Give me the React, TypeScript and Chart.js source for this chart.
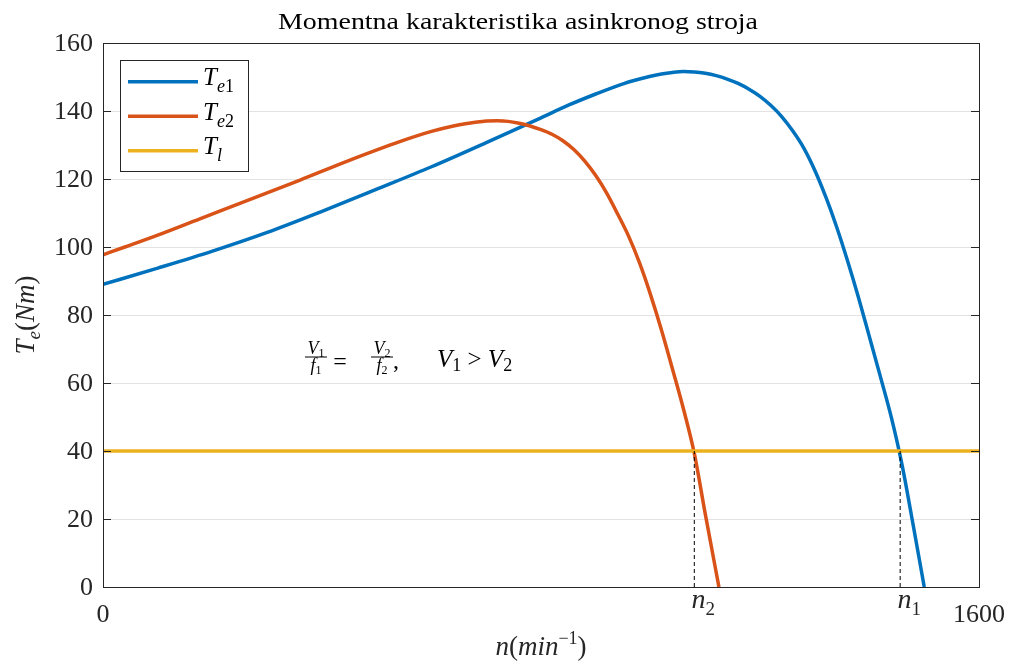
import React, { useEffect, useRef } from "react";
import { Chart, registerables } from "chart.js";

Chart.register(...registerables);

// ---- data ----
const te1N = [0, 100, 200, 300, 400, 500, 600, 700, 800, 850, 900, 950, 1000, 1020, 1040, 1060, 1080, 1100, 1120, 1140, 1160, 1180, 1200, 1220, 1240, 1260, 1280, 1300, 1320, 1340, 1360, 1380, 1400, 1420, 1440, 1460, 1480, 1500];
const te1T = [89, 93.8, 98.8, 104.3, 110.5, 117, 123.6, 130.7, 138, 141.7, 145, 148, 150.2, 150.9, 151.35, 151.6, 151.5, 151.1, 150.4, 149.4, 148.1, 146.4, 144.3, 141.6, 138.3, 134.1, 129.1, 122.6, 114.8, 105.9, 95.9, 85.1, 73.5, 61.8, 49.8, 35.5, 18, 0];
const te2N = [0, 40, 100, 177, 250, 360, 450, 542, 600, 640, 680, 720, 740, 760, 780, 800, 820, 840, 860, 880, 900, 920, 940, 960, 980, 1000, 1020, 1040, 1060, 1080, 1100, 1125];
const te2T = [97.7, 100, 103.5, 108.3, 112.8, 119.7, 125.5, 131, 134, 135.6, 136.7, 137.1, 136.95, 136.4, 135.6, 134.5, 133.15, 131.25, 128.65, 125.25, 121, 115.85, 109.7, 103.2, 95.3, 86, 75.6, 64.2, 52.5, 39.3, 21.5, 0];
const tlN = [0, 1600];
const tlT = [40, 40];
const n1 = 1456;
const n2 = 1080;
const yTicks = [0, 20, 40, 60, 80, 100, 120, 140, 160];
const xTicks = [0, n2, n1, 1600];
const xTickLabels = ["0", "n2", "n1", "1600"];
const title = "Momentna karakteristika asinkronog stroja";
const seriesLabels = [["T", "e", "1"], ["T", "e", "2"], ["T", "l", ""]];
const colors = ["#0072BD", "#D95319", "#EDB120"];

const SERIF = "'Liberation Serif', 'Times New Roman', serif";
const it = (s: number) => `italic ${s}px ${SERIF}`;
const rm = (s: number) => `${s}px ${SERIF}`;
const INK = "#262626";

type Part = [string, string, number];

function seq(ctx: CanvasRenderingContext2D, parts: Part[], x: number, y: number, align: "left" | "center" | "right") {
  const widths = parts.map((p) => {
    ctx.font = p[1];
    return ctx.measureText(p[0]).width;
  });
  const total = widths.reduce((a, b) => a + b, 0);
  let cx = align === "left" ? x : align === "center" ? x - total / 2 : x - total;
  ctx.textAlign = "left";
  ctx.textBaseline = "alphabetic";
  parts.forEach((p, i) => {
    ctx.font = p[1];
    ctx.fillText(p[0], cx, y + p[2]);
    cx += widths[i];
  });
  return total;
}

const pts = (xs: number[], ys: number[]) => xs.map((x, i) => ({ x, y: ys[i] }));

const decor = {
  id: "decor",
  beforeDatasetsDraw(chart: any) {
    const { ctx, chartArea: a, scales } = chart;
    ctx.save();
    ctx.strokeStyle = "#e3e3e3";
    ctx.lineWidth = 1;
    yTicks.forEach((v) => {
      const y = Math.round(scales.y.getPixelForValue(v)) + 0.5;
      ctx.beginPath();
      ctx.moveTo(a.left, y);
      ctx.lineTo(a.right, y);
      ctx.stroke();
    });
    ctx.restore();
  },
  afterDatasetsDraw(chart: any) {
    const { ctx, chartArea: a, scales } = chart;
    const xs = scales.x;
    const ys = scales.y;
    ctx.save();
    // box
    ctx.strokeStyle = INK;
    ctx.lineWidth = 1;
    ctx.strokeRect(Math.round(a.left) + 0.5, Math.round(a.top) + 0.5, Math.round(a.right - a.left), Math.round(a.bottom - a.top));
    // y ticks (inward, both sides)
    const tl = 8;
    yTicks.forEach((v) => {
      const y = Math.round(ys.getPixelForValue(v)) + 0.5;
      ctx.beginPath();
      ctx.moveTo(a.left, y);
      ctx.lineTo(a.left + tl, y);
      ctx.moveTo(a.right, y);
      ctx.lineTo(a.right - tl, y);
      ctx.stroke();
    });
    // y tick labels
    ctx.fillStyle = INK;
    ctx.font = rm(26);
    ctx.textAlign = "right";
    ctx.textBaseline = "middle";
    yTicks.forEach((v) => {
      ctx.fillText(String(v), a.left - 10, ys.getPixelForValue(v) + 1);
    });
    // x tick labels
    xTicks.forEach((v, i) => {
      const x = xs.getPixelForValue(v);
      const lab = xTickLabels[i];
      if (lab.startsWith("n")) {
        seq(ctx, [["n", it(28), 0], [lab.slice(1), rm(19), 7]], x + 9, a.bottom + 21, "center");
      } else {
        ctx.font = rm(26);
        ctx.textAlign = "center";
        ctx.textBaseline = "alphabetic";
        ctx.fillText(lab, x, a.bottom + 35);
      }
    });
    // title
    ctx.font = rm(23);
    const tw = ctx.measureText(title).width;
    const sx = 480 / tw;
    ctx.save();
    ctx.translate(518, 29);
    ctx.scale(sx, 1);
    ctx.textAlign = "center";
    ctx.textBaseline = "alphabetic";
    ctx.fillStyle = "#000";
    ctx.fillText(title, 0, 0);
    ctx.restore();
    // x axis label
    ctx.fillStyle = INK;
    seq(
      ctx,
      [
        ["n", it(27), 0],
        ["(", rm(27), 0],
        ["min", it(27), 0],
        ["\u22121", rm(18), -11],
        [")", rm(27), 0],
      ],
      (a.left + a.right) / 2,
      655,
      "center"
    );
    // y axis label
    ctx.save();
    ctx.translate(34, (a.top + a.bottom) / 2);
    ctx.rotate(-Math.PI / 2);
    seq(
      ctx,
      [
        ["T", it(27), 0],
        ["e", it(19), 6],
        ["(", rm(27), 0],
        ["Nm", it(27), 0],
        [")", rm(27), 0],
      ],
      0,
      0,
      "center"
    );
    ctx.restore();
    // annotation
    ctx.fillStyle = "#000";
    const frac = (cx: number, num: string, den: string) => {
      seq(ctx, [["V", it(18), 0], [num, rm(12), 3]], cx, 354, "center");
      ctx.fillRect(cx - 11, 356.5, 22, 1);
      seq(ctx, [["f", it(18), 0], [den, rm(12), 3]], cx, 371, "center");
    };
    frac(316, "1", "1");
    seq(ctx, [["=", rm(24), 0]], 340, 369, "center");
    frac(382, "2", "2");
    seq(ctx, [[",", rm(24), 0]], 393, 368, "left");
    seq(
      ctx,
      [
        ["V", it(25), 0],
        ["1", rm(18), 4],
        [" > ", rm(25), 0],
        ["V", it(25), 0],
        ["2", rm(18), 4],
      ],
      437,
      367,
      "left"
    );
    // legend
    const lx = 120.5, ly = 60.5, lw = 128, lh = 111;
    ctx.fillStyle = "#fff";
    ctx.fillRect(lx, ly, lw, lh);
    ctx.strokeStyle = INK;
    ctx.lineWidth = 1;
    ctx.strokeRect(lx, ly, lw, lh);
    const rows = [81.7, 116.3, 150.7];
    rows.forEach((ry, i) => {
      ctx.strokeStyle = colors[i];
      ctx.lineWidth = 3.5;
      ctx.beginPath();
      ctx.moveTo(128, ry);
      ctx.lineTo(198, ry);
      ctx.stroke();
      ctx.fillStyle = "#000";
      const [base, sub1, sub2] = seriesLabels[i];
      seq(ctx, [[base, it(25), 0], [sub1, it(18), 7], [sub2, rm(18), 7]], 203, ry + 3.5, "left");
    });
    ctx.restore();
  },
};

export default function App() {
  const ref = useRef<HTMLCanvasElement | null>(null);
  useEffect(() => {
    if (!ref.current) return;
    const chart = new Chart(ref.current, {
      type: "line",
      data: {
        datasets: [
          {
            label: "n1 marker",
            data: pts([n1, n1], [0, 40]),
            borderColor: "#000",
            borderWidth: 1,
            borderDash: [4, 3],
            pointRadius: 0,
            order: 0,
          },
          {
            label: "n2 marker",
            data: pts([n2, n2], [0, 40]),
            borderColor: "#000",
            borderWidth: 1,
            borderDash: [4, 3],
            pointRadius: 0,
            order: 1,
          },
          {
            label: "Tl",
            data: pts(tlN, tlT),
            borderColor: colors[2],
            borderWidth: 3.5,
            pointRadius: 0,
            order: 2,
          },
          {
            label: "Te2",
            data: pts(te2N, te2T),
            borderColor: colors[1],
            borderWidth: 3.5,
            pointRadius: 0,
            cubicInterpolationMode: "monotone",
            order: 3,
          },
          {
            label: "Te1",
            data: pts(te1N, te1T),
            borderColor: colors[0],
            borderWidth: 3.5,
            pointRadius: 0,
            cubicInterpolationMode: "monotone",
            order: 4,
          },
        ],
      },
      options: {
        animation: false,
        responsive: false,
        maintainAspectRatio: false,
        layout: { padding: { left: 103, top: 43, right: 32, bottom: 76 } },
        plugins: { legend: { display: false }, tooltip: { enabled: false }, title: { display: false } },
        scales: {
          x: { type: "linear", min: 0, max: 1600, display: false },
          y: { type: "linear", min: 0, max: 160, display: false },
        },
      },
      plugins: [decor],
    } as any);
    return () => chart.destroy();
  }, []);
  return (
    <div style={{ position: "fixed", left: 0, top: 0, width: 1011, height: 663, background: "#fff" }}>
      <canvas ref={ref} width={1011} height={663} style={{ display: "block" }} />
    </div>
  );
}
